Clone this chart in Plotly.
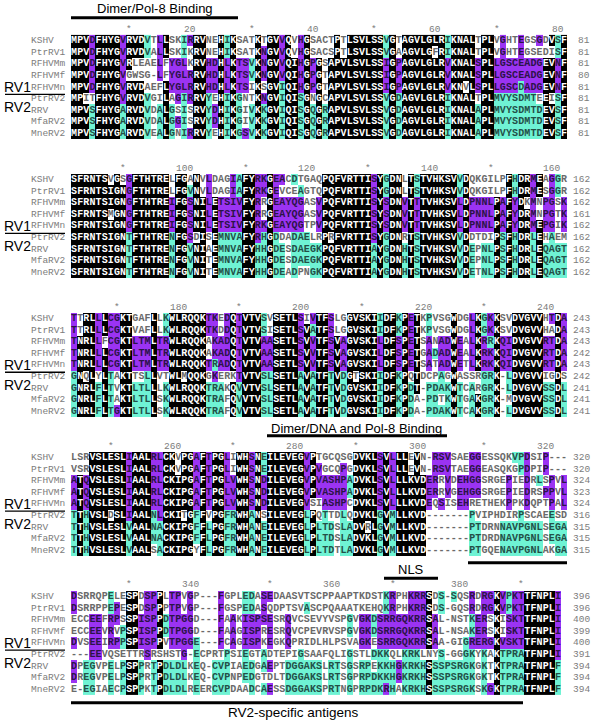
import plotly.graph_objects as go
from collections import Counter

names = ["KSHV", "PtrRV1", "RFHVMm", "RFHVMf", "RFHVMn", "PtrRV2", "RRV", "MfaRV2", "MneRV2"]

block1 = [
    "MPVDFHYGVRVDVTLLSKIRRVNEHIKSATKTGVVQVHG" + "SACTPTLSVLSSVGTAGVLGLRIKNALTPLVGHTEGSGDVSF",
    "MPVDFHYGVRVDVALLSKIKRVNEHIKSATKNGVVQVHG" + "SACSPTLSVLSSVGAAGVLGFRIKNALTPLVGHTEGSEDISF",
    "MPVDFHYGVRLEAELFYGLKRVHDHLKTSVKNGVVQIHG" + "PGSAPVLSVLSSIGPAGVLGLRVKNALSPLLGSCEADGEVNF",
    "MPVDFHYGVGWSG-LFYGLRRVHDHLKTSVKNGVVQIHG" + "PGTAPVLSVLSSIGPAGVLGLRVKNALSPLLGSCEADGEVNF",
    "MPVDFHYGVRVDAEFLYGLRRVHDHLKTSIKSGVIQIHG" + "PGTAPVLSVLSSIGPAGVLGLRVKNVLSPLLGSCDADGEVNF",
    "MPITFHYGVRVDVGILAGIRRVYEHIKGNTKNGVIQISG" + "NGCAPVLSVLSSVGDAGVLGLRIKNALTPLMVYSDMTEEISF",
    "MPVSFHYGARVDVDALGSISRVYDHIKGIVKKGVIQISG" + "QGRAPVLSVLSSVGDAGVLGLRIKNALAPLMVYSDMTDEVSF",
    "MPVSFHYGARVDVDALGGISRVYDHIKGIVKKGVIQISG" + "QGRAPVLSVLSSVGDAGVLGLRIKNALAPLMVYSDMTDEVSF",
    "MPVSFHYGARVDVEALGNIRRVYEHIKGSVKKGVIQISG" + "QGRAPVLSVLSSVGDAGVLGLRIKNALAPLMVYSDMTDEVSF",
]
block2 = [
    "SFRNTSVGSGFTHTRELFGANVLDAGIAFYRKGEACDTG" + "AQPQFVRTTISYGDNLTSTVHKSVVDQKGILPFHDRMEAGGR",
    "SFRNTSIGNGFTHTRELFGVNVLDAGIAFYRKGEVCEAG" + "TQPQFVRTTISYGDNLTSTVHKSVVDQKGILPFHDRMESGGR",
    "SFRNTSIGNGFTHTREIFGSNILETSIVFYRRGEAYQGA" + "SVPQFVRTTISYSDNVTTTVHKSVLDPNNLPAFYDKMNPGSK",
    "SFRNTSMGNGFTHTREIFGSNILETSIVFYRRGEAYQGA" + "SVPQFVRTTISYSDNVTTTVHKSVLDPNNLPAFYDRMNPGTK",
    "SFRNTSIGNGFTHTREIFGSNILETSIVFYRKGEAYQGT" + "PVPQFVRTTISYSDNVTTTVHKSVLDPNNLPAFYDRMEPGIK",
    "SFRNTSIGNTFTHTRENFGSDISEMNVAFYRHGDDADAE" + "LRPRFVRTTISYGDNRTSTVHKSVVDDTDIPSFHDRLEHAEM",
    "SFRNTSIGNTFTHTRENFGVNIAEMNVAFYHHGDESDAE" + "GKPQFVRTTIAYGDNHTSTVHKSVVDEPNLPSFHDRLEQAGT",
    "SFRNTSIGNTFTHTRENFGVNITEMNVAFYHHGDESDAE" + "GKPQFVRTTIAYGDNHTSTVHKSVVDEPNLPSFHDRLEQAGT",
    "SFRNTSIGNTFTHTRENFGVNITEMNVAFYHHGDEADPN" + "GKPQFVRTTIAYGDNHTSTVHKSVVDETNLPSFHDRLEQAGT",
]
block3 = [
    "TTRLLLCGKTGAFLLKWLRQQKTKEDQTVTVSVSETLSI" + "VTFSLGGVSKIIDFKPETKPVSGWDGLKGKKSVDVGVVHTDA",
    "TTRLLLCGKTVAFLLKWLRQQKTKDDQTVTVSISETLSV" + "ATFSLGGVSKIIDFKPETKPVSGWDGLKGKKSVDVGVVHADA",
    "TNRLLFCGKTLTMLTRWLRQQKAKADQTVTVAASETLSV" + "VTFSVAGVSKILDFSPETSANADWEALKRRKQIDVGVVRTDA",
    "TNRLLLCGKTLTMLTRWLRQQKAKADQTVTVAASETLSV" + "VTFSVAGVSKILDFSPETGADADWEALKRKKQIDVGVVRTDA",
    "TNRLLLCGKTLTMLTRWLRQQKTRADQTVTVAASETLSV" + "VTFSVAGVSKILDFSPETSATADWETLKRKKQIDVGVVRTDA",
    "GNQLYLTAKTTSLLVTWLMQQKGKERKTVTVSLSETLAV" + "ATFTVDGTSKIIDFKPQTDCPAGWASSRGRK-LDVGVVIGDS",
    "GNRLFLTVKTLTLLLKWLRQQKTRAKQVVTVSLSETLAV" + "ATFTVDGVSKIIDFKPDT-PDAKWTCARGRK-LDVGVVSSDL",
    "GNRLFLTAKTLTLLSKWLRQQKTRAFQVVTVSLSETLAV" + "ATFTVDGVSKIIDFKPDA-PDTKWTGAKGRK-MDVGVVSSDL",
    "GNRLFLTGKTLTLLSKWLRQQKTRAFQVVTVSLSETLAV" + "ATFTVDGVSKIIDFKPDA-PDAKWTCAKGRK-LDVGVVSSDL",
]
block4 = [
    "LSRVSLESLIAALRLCKVPGAFTPGLIWHSNEILEVEGV" + "PTGCQSGDVKLSVLLLEVN-RSVSAEGGESSQKVPDSIP---",
    "VSRVSLESLIAALRLCKVPGAFTPGLIWHSNEILEVEGV" + "PVGCQPGDVKLSVLLLEVN-RSVTAEGGEASQKGPDPIP---",
    "ATQVSLESLIAALRLCKIPGAFTPGLVWHSNDILEVEGV" + "PVASHPADVKLSVLLLKVDERRVDEHGGSRGEPIEDRLSPVL",
    "ATQVSLESLIAALRLCKIPGAFTPGLVWHSNDILEVEGV" + "PVASHPADVKLSVLLLKVDERRVGEHGGSRGEPIEDRSPPVL",
    "ATQVSLESLIAALRLCKIPGAFTPGLVWHSNDILEVEGV" + "SIASHPCDVKLSVLLLKVDEQSISEHRETHEKPPKDQPTPAL",
    "TTHVSLDSLIAALNLCKITGFFVPGFRWHANSILEVEGL" + "PQTTDLQDVKLGVMLLKVD-------PVIPHDIRPSCAEESD",
    "TTHVSLESLVAALNACKIPGFFLPGFRWHANEILEVEGL" + "PLTDSLADVRLGVMLLKVD-------PTDRNNAVPGNLSEGA",
    "TTHVSLESLVAALNACKIPGFFLPGFRWHANEILEVEGL" + "PLTDSLADVKLGVMLLKVD-------PTDRDNAVPGNLSEGA",
    "TTHVSLESLVAALSACKIPGYFLPGFRWHANEILEVEGL" + "PLTDTLADVKLGVMLLKVD-------PTGQENAVPGNLAKGA",
]
block5 = [
    "DSRRQPELESPDSPPLTPVGP---FGPLEDASEDAASVT" + "SCPPAAPTKDSTKRPHKRRSDS-SQSRDRGKVPKTTFNPLI",
    "DSRRPPEPESPDSPPPTPVGP---FGSPEDASQDPTSVA" + "SCPQAAATKEHQKRPHKRRSDS-GQSRDRGKVPKTTFNPLI",
    "ECCEEFRPSSPISPPDTPGGD---FAAKISPSESRQVCS" + "EVYVSPGVGKDSRRGQKRRSAL-NSTKERSKISKTTFNPLI",
    "ECCEEVRVPSPISPPDTPGGD---FAAGISPRESRQVCP" + "EVRVSPGVGKDSRRGQKRRSAL-NSAKERSKISKTTFNPLI",
    "DVSEEIRPPSPISPPVTPGGE---FCAGISPKEGKQPRI" + "DLHLPSVAGKESRRGQKRRSAA-GIGRERGKVSKTTFNPLI",
    "---EEVQSETTRSRSHSTG-ECPRTPSIEGTADTEPIGS" + "AAFQLIGSTLDKKQLKRKLNYS-GGGKYKAKTPRATFNPLI",
    "DPEGVPELPSPPRTPDLDLKEQ-CVPIAEDGAEPTDGGA" + "KSLRTSGSRPEKKHGKRKHSSSPSRGKGKTKTPRATFNPLF",
    "DREGVPELPSPPRTPDLDLKEQ-CVPNPEDGTDLTDGGA" + "KSLRTSGPRPDKKHGKRKHSSSPSRGKGKTKTPRATFNPLF",
    "E-EGIAECPSPPKTPDLDLREERCVPDAADCAESSDGGA" + "KSPRTNGPRPDKRHAKRKHSSSPSRGKSKGKTPRATFNPLF",
]
blocks = [block1, block2, block3, block4, block5]

group_labels = ["RV1", "RV2"]
feature_labels = ["Dimer/Pol-8 Binding", "Dimer/DNA and Pol-8 Binding", "NLS", "RV2-specific antigens"]

# ---------------- style / geometry (pixel units of the 600x722 window) ----------------
FIG_W, FIG_H = 600, 722
CELL_W = 6.125           # px per alignment column
ROW_H = 11.58            # px per row
X0_PX = 71.0             # left edge of column 1
Y0_PX = 40.7             # centre of first row
ROWS_PER_BLOCK = 12

PURPLE = "#9B33F3"
CYAN = "#6FF3D4"
TXT = {0: "#6a6a6a", 1: "#2c1348", 2: "#234f47", 3: "#ffffff"}
MONO = "Liberation Mono"
SANS = "Liberation Sans"


def px_to_x(px):
    return (px - X0_PX) / CELL_W + 0.5


def px_to_y(py):
    return (py - Y0_PX) / ROW_H


def shade(rows):
    ncol = max(len(r) for r in rows)
    codes = [[0] * ncol for _ in rows]
    for j in range(ncol):
        col = [r[j] if j < len(r) else "-" for r in rows]
        allc = Counter(c for c in col if c.isalpha())
        g1 = Counter(c for c in col[:5] if c.isalpha())
        g2 = Counter(c for c in col[5:] if c.isalpha())
        p1 = {c for c, n in g1.items() if n >= 3}
        p2 = {c for c, n in g2.items() if n >= 3}
        for i, c in enumerate(col):
            if not c.isalpha():
                code = 0
            elif allc[c] >= 7:
                code = 3
            elif c in p1 and c in p2:
                code = 1 if i < 5 else 2
            elif c in p1:
                code = 1
            elif c in p2:
                code = 2
            else:
                code = 0
            codes[i][j] = code
    return codes


ncols = max(len(r) for b in blocks for r in b)
n_rows_total = ROWS_PER_BLOCK * (len(blocks) - 1) + len(names)
Z = [[None] * ncols for _ in range(n_rows_total)]
txt = {k: ([], [], []) for k in range(4)}

annotations = []
shapes = []
small = dict(family=MONO, size=9.5, color="#7c7c7c")
big = dict(family=SANS, size=14, color="black")

cum = [0] * len(names)
kshv_count = 0
for b, rows in enumerate(blocks):
    codes = shade(rows)
    base = ROWS_PER_BLOCK * b
    for i, r in enumerate(rows):
        y = base + i
        for j, c in enumerate(r):
            code = codes[i][j]
            Z[y][j] = code
            xs, ys, ts = txt[code]
            xs.append(j + 1)
            ys.append(y)
            ts.append(c)
        cum[i] += sum(1 for c in r if c.isalpha())
        annotations.append(dict(x=px_to_x(29), y=y, text=names[i], xanchor="left", yanchor="middle",
                                showarrow=False, font=small))
        annotations.append(dict(x=px_to_x(592), y=y, text=str(cum[i]), xanchor="right", yanchor="middle",
                                showarrow=False, font=small))
    # ruler (KSHV residue numbering)
    n = kshv_count
    for j, c in enumerate(rows[0]):
        if c.isalpha():
            n += 1
            if n % 10 == 0:
                lab = "*" if (n // 10) % 2 == 1 else str(n)
                annotations.append(dict(x=j + 1, y=base - 1, text=lab, showarrow=False,
                                        xanchor="center", yanchor="middle", font=small))
    kshv_count = n
    annotations.append(dict(x=px_to_x(1.5), y=base + 4.0, text=group_labels[0], xanchor="left",
                            yanchor="middle", showarrow=False, font=big))
    annotations.append(dict(x=px_to_x(1.5), y=base + 5.7, text=group_labels[1], xanchor="left",
                            yanchor="middle", showarrow=False, font=big))
    shapes.append(dict(type="line", xref="x", yref="y", x0=px_to_x(5), x1=px_to_x(65),
                       y0=base + 4.63, y1=base + 4.63, line=dict(color="black", width=1.3)))


def bar(x0px, x1px, ypx, w=3):
    shapes.append(dict(type="line", xref="x", yref="y", x0=px_to_x(x0px), x1=px_to_x(x1px),
                       y0=px_to_y(ypx), y1=px_to_y(ypx), line=dict(color="black", width=w)))


def label(text, xpx, ypx, size=13):
    annotations.append(dict(x=px_to_x(xpx), y=px_to_y(ypx), text=text, showarrow=False,
                            xanchor="center", yanchor="middle",
                            font=dict(family=SANS, size=size, color="black")))


label(feature_labels[0], 155, 8)
bar(71, 238, 17.7)
label(feature_labels[1], 356, 428)
bar(267, 447, 435.7)
bar(468, 567, 562.7)
label(feature_labels[2], 411, 569)
bar(384, 438, 578.3)
bar(71, 523, 702.7)
label(feature_labels[3], 293, 712, size=13.5)

fig = go.Figure()
fig.add_trace(go.Heatmap(
    x=list(range(1, ncols + 1)), y=list(range(n_rows_total)), z=Z,
    zmin=0, zmax=3, showscale=False, hoverinfo="skip",
    colorscale=[[0, "#ffffff"], [0.1667, "#ffffff"], [0.1667, PURPLE], [0.5, PURPLE],
                [0.5, CYAN], [0.8333, CYAN], [0.8333, "#000000"], [1, "#000000"]],
))
for k in range(4):
    xs, ys, ts = txt[k]
    fig.add_trace(go.Scatter(
        x=xs, y=ys, text=ts, mode="text", hoverinfo="skip", showlegend=False,
        textposition="middle center",
        textfont=dict(family=MONO, size=10, color=TXT[k], weight="bold"),
    ))

fig.update_layout(
    width=FIG_W, height=FIG_H, margin=dict(l=0, r=0, t=0, b=0),
    paper_bgcolor="white", plot_bgcolor="white", showlegend=False,
    xaxis=dict(range=[px_to_x(0), px_to_x(FIG_W)], visible=False, fixedrange=True),
    yaxis=dict(range=[px_to_y(FIG_H), px_to_y(0)], visible=False, fixedrange=True),
    annotations=annotations, shapes=shapes,
)
fig.write_html(
    "out.html",
    config={"displayModeBar": False},
    post_script="document.body.style.margin='0px';document.body.style.overflow='hidden';",
)
